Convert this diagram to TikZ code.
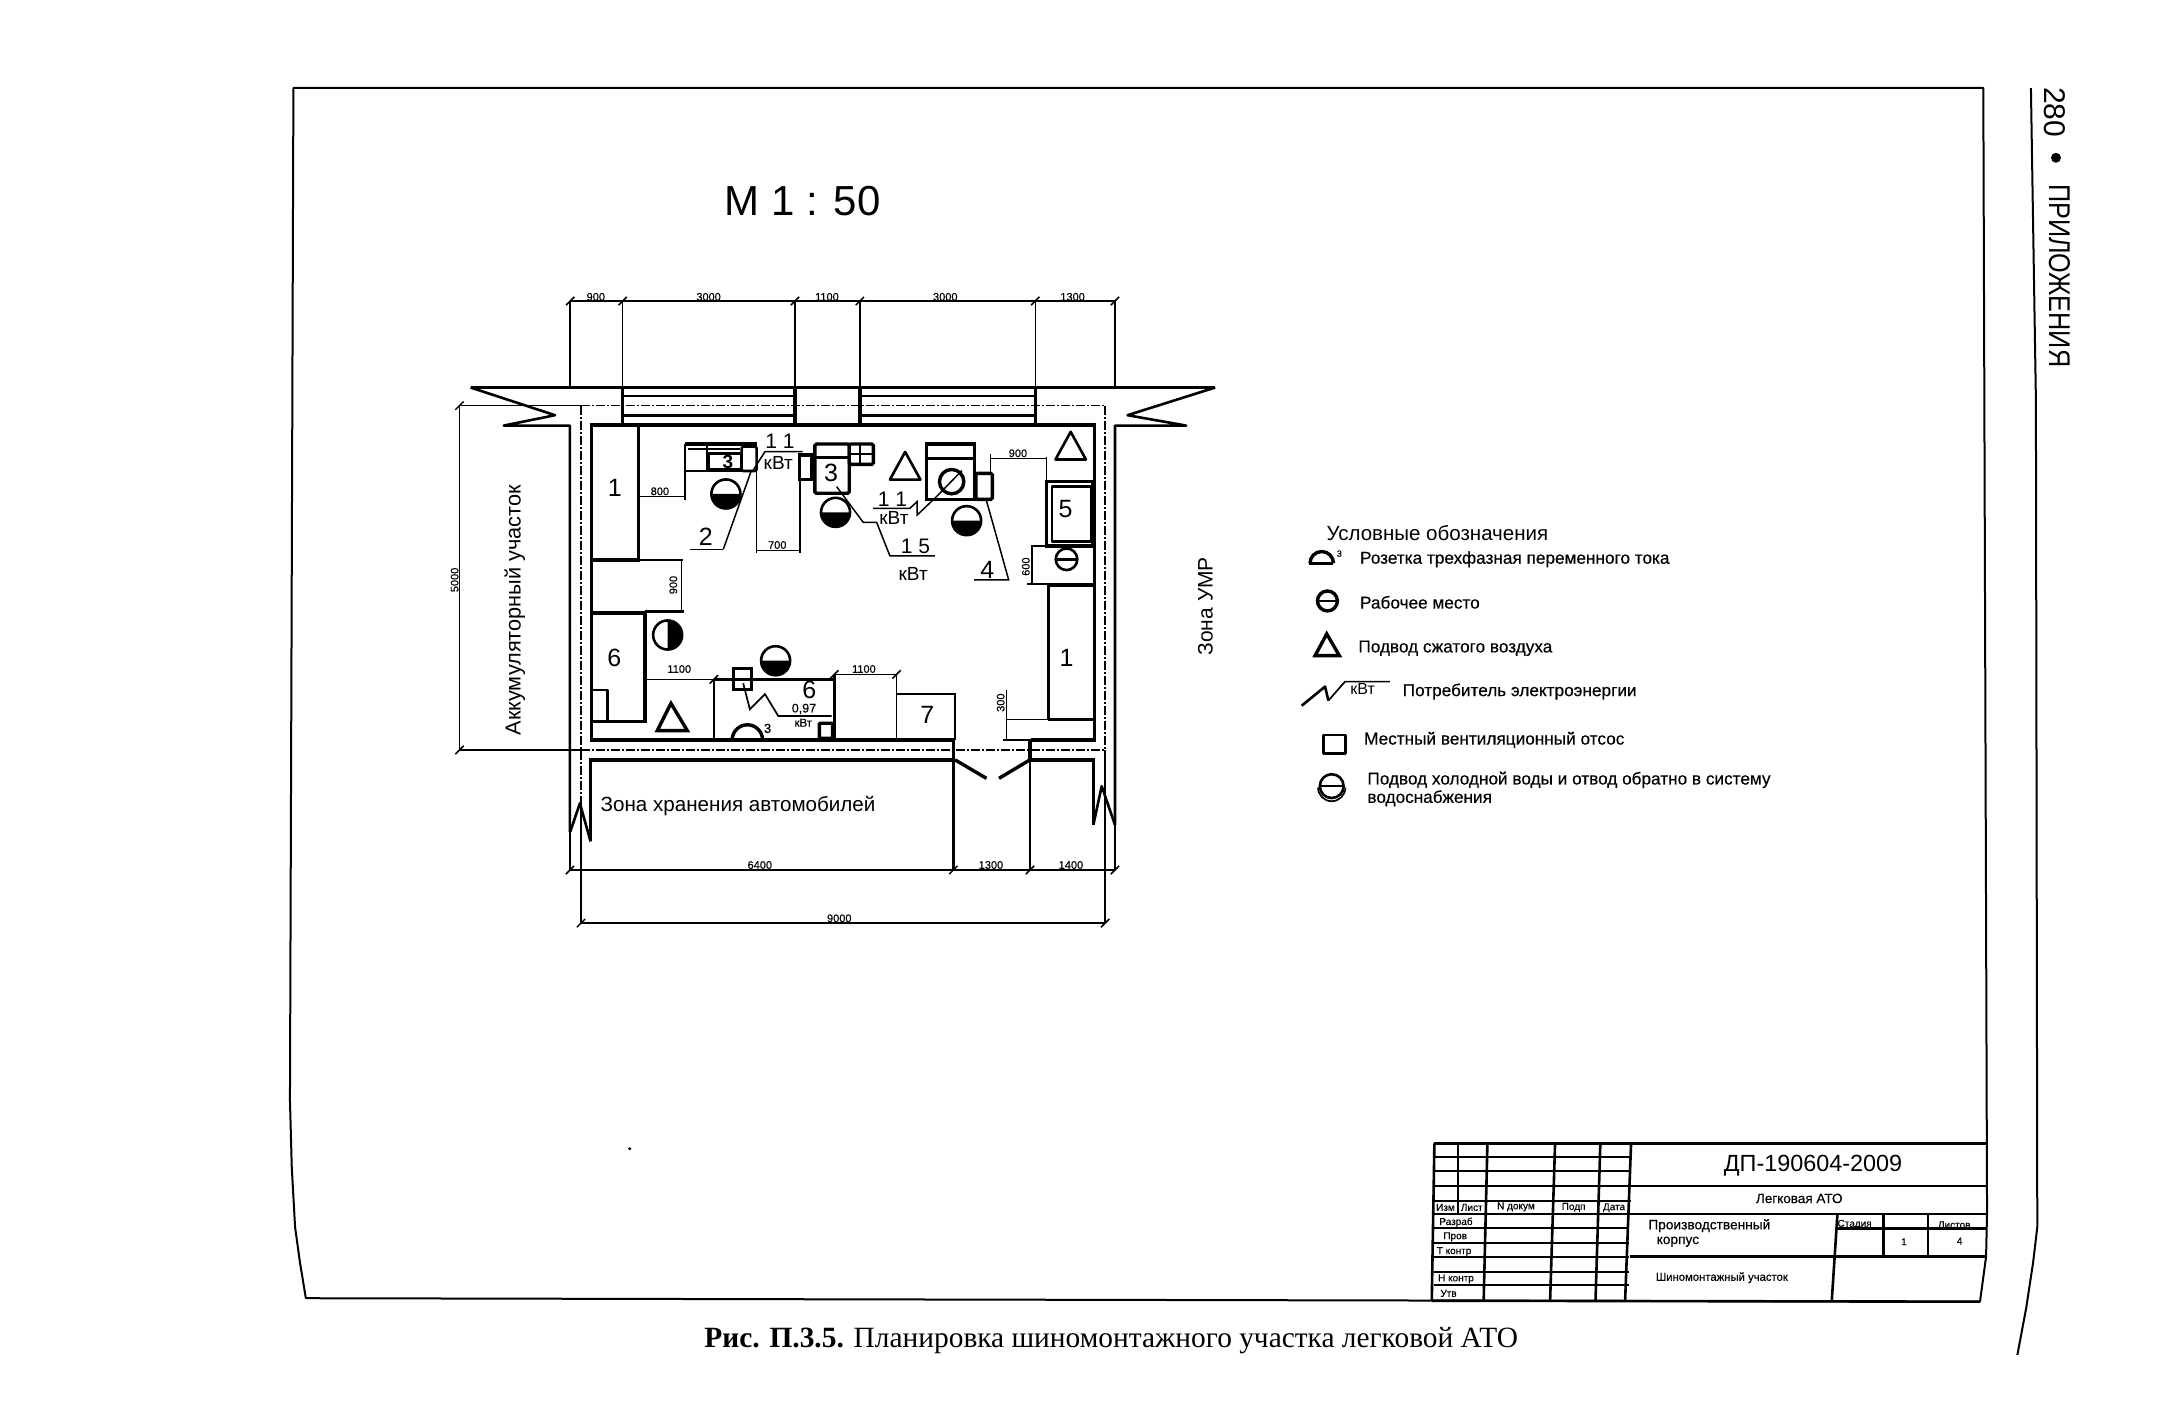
\documentclass[tikz,border=0pt]{standalone}
\usepackage{fontspec}
\setmainfont{Liberation Sans}
\newfontfamily\capfont{Liberation Serif}
\newfontfamily\scanfont[FakeBold=0.35]{Liberation Sans}
\newcommand{\fs}[1]{\fontsize{#1}{#1}\selectfont}
\tikzset{
	wall/.style={line width=3.4pt, line join=miter},
	heavy/.style={line width=2.6pt, line join=round},
	fine/.style={line width=1.7pt},
	dimline/.style={line width=1.5pt},
	axisline/.style={line width=1.5pt, dash pattern=on 9pt off 2pt on 2pt off 2pt},
	every node/.style={inner sep=0pt, outer sep=0pt},
	dimtext/.style={font=\scanfont\fs{11}},
	numtext/.style={font=\fs{25}},
	powtext/.style={font=\fs{19}},
	legtext/.style={font=\scanfont\fs{17.2}, anchor=west},
	tabtext/.style={font=\scanfont\fs{10}},
	stamptext/.style={font=\scanfont\fs{11.3}, anchor=west}
}
\newcommand{\tk}[2]{\draw[dimline] (#1-3,#2+3) -- (#1+3,#2-3);}
\newcommand{\workplace}[2]{\draw[heavy] (#1,#2) circle (10.5); \fill (#1+11,#2) arc (0:180:11) -- cycle;}
\newcommand{\airtri}[3]{\draw[heavy] (#1,#2) -- (#1-#3,#2+20) -- (#1+#3,#2+20) -- cycle;}
\begin{document}
\begin{tikzpicture}[x=1.384pt, y=-1.384pt]
	\useasboundingbox (0,0) rectangle (1567.9,1020.2);
	
	% sheet frame and page rule
	\draw[heavy, line width=2pt] (209.5,795) -- (210.8,843) -- (213.2,886.6) -- (216.8,912.6) -- (221,938) -- (1430.6,940.5) -- (1435,908) -- (1435.7,876) -- (1433,63.5) -- (212,63.5) -- cycle;
	\draw[fine, line width=2pt] (1467.4,63.6) -- (1471,289) -- (1472,886.6) -- (1469,912) -- (1464,945) -- (1457.6,979);
	
	% page header and caption
	\node[rotate=-90, anchor=west, font=\fs{30}] (pagenum) at (1485,63){280};
	\fill (1485.5,114) circle (3.6);
	\node[rotate=-90, anchor=west, font=\fs{30}] (chapter) at (1488,133){\scalebox{.84}[1]{ПРИЛОЖЕНИЯ}};
	\node[anchor=west, font=\capfont\fs{29.4}] (caption) at (509,968.5){\textbf{Рис. П.3.5.} Планировка шиномонтажного участка легковой АТО};
	\node[font=\fs{42}] (scale) at (580,145){М 1 : 50};
	\fill (455,830) circle (1.2);
	
	% top dimension chain
	\draw[dimline] (412,217.5) -- (806,217.5);
	\foreach \x in {412,449.9,574.4,621.3,748,805.6}{
		\draw[dimline] (\x,217.5) -- (\x,280);
		\tk{\x}{217.5}
	}
	\node[dimtext] (dimA) at (430.5,214.5){900};
	\node[dimtext] (dimB) at (512,214.5){3000};
	\node[dimtext] (dimC) at (597.5,214.5){1100};
	\node[dimtext] (dimD) at (683,214.5){3000};
	\node[dimtext] (dimE) at (775,214.5){1300};
	
	% left dimension
	\draw[dimline] (332,293.1) -- (332,541.9);
	\draw[dimline] (332,293.1) -- (420,293.1);
	\draw[dimline] (332,541.9) -- (419.8,541.9);
	\tk{332}{293.1}
	\tk{332}{541.9}
	\node[dimtext, rotate=90] (dimF) at (328.5,419){5000};
	
	% bottom dimensions
	\draw[dimline] (411.8,628.6) -- (805.6,628.6);
	\draw[dimline] (419.8,667) -- (798.5,667);
	\foreach \x in {411.8,688.8,744.2,805.6}{\tk{\x}{628.6}}
	\foreach \x in {419.8,798.5}{\tk{\x}{667}}
	\node[dimtext] (dimG) at (549,625){6400};
	\node[dimtext] (dimH) at (716,625){1300};
	\node[dimtext] (dimI) at (773.8,625){1400};
	\node[dimtext] (dimJ) at (606.4,663.5){9000};
	
	% axes
	\draw[axisline] (420,293.1) -- (798.5,293.1);
	\draw[axisline] (419.8,293.1) -- (419.8,580);
	\draw[axisline] (798.5,293.1) -- (798.5,541.9);
	\draw[axisline] (419.8,541.9) -- (798.5,541.9);
	\draw[dimline] (419.8,580) -- (419.8,667);
	\draw[dimline] (798.5,541.9) -- (798.5,667);
	
	% walls
	\draw[heavy] (340,280) -- (878,280);
	\draw[heavy] (340,280) -- (401,300) -- (364,307.5) -- (411.8,307.5) -- (411.8,601);
	\draw[heavy] (878,280) -- (814.7,300) -- (857,307.5) -- (805.6,307.5) -- (805.6,596);
	\draw[dimline] (411.8,601) -- (411.8,628.6);
	\draw[dimline] (805.6,596) -- (805.6,628.6);
	\draw[wall] (748,280) -- (748,307.2) -- (791,307.2) -- (791,534.7) -- (745,534.7);
	\draw[wall] (748,307.2) -- (427.5,307.2) -- (427.5,534.7) -- (689,534.7);
	\draw[wall] (426.7,608) -- (426.7,549) -- (689,549);
	\draw[wall] (744.2,549) -- (790,549) -- (790,596);
	\draw[heavy] (426.7,608) -- (419,580.4) -- (412,601);
	\draw[heavy] (790,596) -- (796,568) -- (805.6,596);
	\foreach \x in {449.9,574.4,621.3}{\draw[wall] (\x,280) -- (\x,307);}
	\draw[heavy] (450,286.1) -- (574,286.1);
	\draw[heavy] (450,300.3) -- (574,300.3);
	\draw[heavy] (621,286.1) -- (748,286.1);
	\draw[heavy] (621,300.3) -- (748,300.3);
	
	% door
	\draw[wall] (688.8,534) -- (688.8,549);
	\draw[wall] (744.2,534) -- (744.2,549);
	\draw[heavy] (688.8,549) -- (688.8,628.6);
	\draw[fine] (744.2,549) -- (744.2,628.6);
	\draw[wall] (690,549) -- (712.8,562.4);
	\draw[wall] (744.2,549) -- (721.8,562.4);
	
	% left row of equipment
	\draw[wall] (461.2,307) -- (461.2,404.6) -- (427.5,404.6);
	\node[numtext] (benchA) at (444.3,352.8){1};
	\draw[wall] (427.5,443) -- (466,443) -- (466,521.4) -- (427.5,521.4);
	\draw[heavy] (461,404.6) -- (493.5,404.6);
	\draw[dimline] (492.5,404.6) -- (492.5,442);
	\draw[heavy] (466,442) -- (494,442);
	\node[dimtext, rotate=90] (dimK) at (486.5,422.7){900};
	\draw[heavy] (427.5,498.6) -- (439,498.6) -- (439,521);
	\node[numtext] (rackA) at (443.8,475.7){6};
	\draw[heavy] (482.4,458.8) circle (10.5);
	\fill (482.4,447.8) arc (-90:90:11) -- cycle;
	
	% lower row of equipment
	\draw[dimline] (467.7,490.9) -- (515.8,490.9);
	\tk{515.8}{490.9}
	\node[dimtext] (dimL) at (490.8,483.4){1100};
	\draw[heavy] (515.8,490.9) -- (602.8,490.9);
	\draw[heavy] (515.8,490.9) -- (515.8,534.7);
	\draw[heavy] (602.8,487.3) -- (602.8,534.7);
	\draw[fine] (602.8,487.3) -- (647.8,487.3);
	\tk{602.8}{487.3}
	\tk{647.8}{487.3}
	\node[dimtext] (dimM) at (624.2,483.4){1100};
	\draw[fine] (647.8,487.3) -- (647.8,534.7);
	\draw[fine] (647.8,501.5) -- (690,501.5) -- (690,534.7);
	\node[numtext] (rackB) at (670,516.6){7};
	\draw[wall] (529.8,482.9) rectangle (543,498);
	\node[numtext] (rackC) at (584.7,498.6){6};
	\draw[fine] (537,493.7) -- (541.8,512.5) -- (552.7,501.5) -- (562.3,517.3) -- (600.8,517.3);
	\node[font=\scanfont\fs{12.5}] (powA) at (580.9,512.2){0,97};
	\node[font=\scanfont\fs{11.5}] (powB) at (580.4,522.2){кВт};
	\draw[wall] (529,534.7) arc (180:360:11);
	\node[font=\scanfont\fs{13}] (sockA) at (554.6,526.3){3};
	\draw[wall, rounded corners=1pt] (592,522.6) rectangle (601.5,533.5);
	\workplace{560.4}{477.4}
	\draw[wall] (474.9,527.9) -- (484.8,508.2) -- (496.6,527.9) -- cycle;
	
	% right column of equipment
	\draw[wall] (757.4,519.8) -- (757.4,422.7);
	\draw[wall] (757.4,519.8) -- (791,519.8);
	\draw[wall] (757.4,422.7) -- (791,422.7);
	\node[numtext] (benchB) at (770.6,475.7){1};
	\draw[fine] (727.3,519.8) -- (757.4,519.8);
	\draw[fine] (725,534.7) -- (745,534.7);
	\draw[dimline] (727.3,498.6) -- (727.3,534.7);
	\node[dimtext, rotate=90] (dimN) at (723,507.7){300};
	\draw[wall] (756.1,348) rectangle (789.8,394.5);
	\draw[heavy] (760.2,351.6) rectangle (788.5,391.4);
	\node[numtext] (sinkA) at (769.9,368){5};
	\draw[fine] (745,394.5) -- (790,394.5);
	\draw[fine] (742,422.2) -- (791,422.2);
	\draw[dimline] (745.7,394.5) -- (745.7,422.2);
	\node[dimtext, rotate=90] (dimO) at (741.2,409.4){600};
	\draw[heavy] (770.6,404.1) circle (7.8);
	\draw[heavy] (762.8,404.1) -- (778.4,404.1);
	\airtri{773.6}{312}{11}
	\draw[dimline] (715.8,328.3) -- (715.8,342);
	\draw[dimline] (715.8,331.2) -- (756.1,331.2);
	\draw[dimline] (756.1,330) -- (756.1,346.8);
	\node[dimtext] (dimP) at (735.5,327.5){900};
	
	% machine 2
	\draw[wall] (494.9,320.8) -- (546.7,320.8);
	\draw[fine] (494.9,340.3) -- (494.9,320.8);
	\draw[fine] (494.9,340.3) -- (546.7,340.3);
	\draw[wall] (511.7,327.5) rectangle (535.8,339.6);
	\draw[fine] (511,320.8) -- (511,340);
	\draw[dimline] (497,324.5) -- (535,324.5);
	\draw[heavy, rounded corners=1.5pt] (535.8,322.7) rectangle (546.7,340.3);
	\node[font=\bfseries\fs{19}] (machA) at (526,334){3};
	\draw[dimline] (522.6,396.9) -- (498.5,396.9);
	\draw[dimline] (543,339.6) -- (522.6,396.9);
	\node[numtext] (leadA) at (510,387.7){2};
	\workplace{524.5}{356.9}
	\draw[dimline] (462.4,358.9) -- (494.9,358.9);
	\draw[dimline] (494.9,340.3) -- (494.9,361);
	\node[dimtext] (dimQ) at (476.8,355){800};
	\draw[dimline] (546.7,340.3) -- (546.7,399.8);
	\draw[dimline] (578,346.8) -- (578,399.8);
	\draw[dimline] (546.7,397.9) -- (578,397.9);
	\node[dimtext] (dimR) at (561.6,393.8){700};
	\draw[dimline] (544.3,339.6) -- (552.7,326.3) -- (579.9,326.3);
	\node[font=\fs{21}] (powC) at (563.5,319){1 1};
	\node[powtext] (powD) at (562.3,334.3){кВт};
	\draw[wall] (577.5,328.7) rectangle (586.4,346.3);
	
	% machine 3
	\draw[wall, rounded corners=1.5pt] (588.8,320.8) rectangle (613.6,356.4);
	\draw[heavy] (588.8,330.4) -- (613.6,330.4);
	\draw[wall, rounded corners=1.5pt] (613.6,320.8) rectangle (631,335.5);
	\draw[heavy] (613.6,328) -- (631,328);
	\draw[heavy] (621.5,320.8) -- (621.5,335.5);
	\node[numtext] (machB) at (600.4,341.5){3};
	\workplace{603.7}{370.2}
	\draw[dimline] (604.5,351.6) -- (623.7,377.4) -- (633.4,377.4) -- (643,401.7) -- (675.5,401.7);
	\node[font=\fs{21}] (powE) at (661.5,394.5){1 5};
	\node[powtext] (powF) at (659.8,414.7){кВт};
	\node[font=\fs{21}] (powG) at (644.9,360.8){1 1};
	\node[powtext] (powH) at (645.9,374.5){кВт};
	\draw[dimline] (630.9,367.3) -- (657.4,367.3) -- (662.7,362.4) -- (662.7,372.1) -- (676.7,358.8) -- (695,340);
	\airtri{654}{326.5}{11}
	
	% machine 4
	\draw[wall] (669.5,320.8) rectangle (704.3,360.8);
	\draw[heavy] (669.5,331.2) -- (704.3,331.2);
	\draw[wall] (687.6,348) circle (8.8);
	\draw[wall, rounded corners=1.5pt] (705.1,342) rectangle (717,360.8);
	\workplace{698.4}{376.2}
	\draw[dimline] (712.6,361.2) -- (728.8,419) -- (703.8,419);
	\node[numtext] (leadB) at (713.3,411.8){4};
	
	% zone labels
	\node[rotate=90, font=\fs{21.7}] (zoneA) at (372,441){Аккумуляторный участок};
	\node[rotate=90, font=\fs{21}] (zoneB) at (871,438){Зона УМР};
	\node[anchor=west, font=\fs{20.6}] (zoneC) at (434,582){Зона хранения автомобилей};
	
	% legend
	\node[anchor=west, font=\fs{20.5}] (legend) at (958.6,385.4){Условные обозначения};
	\draw[wall] (946,407) -- (963.4,407);
	\draw[wall] (946.5,407) arc (180:360:8.5);
	\node[font=\scanfont\fs{9}] (legSockN) at (967.7,400){3};
	\node[legtext] (legSock) at (982.7,404.1){Розетка трехфазная переменного тока};
	\draw[wall] (959.1,434.2) circle (7.2);
	\draw[heavy] (952,434.2) -- (966.2,434.2);
	\node[legtext] (legWork) at (982.7,435.2){Рабочее место};
	\draw[wall] (950.2,473.7) -- (958.6,458) -- (967.7,473.7) -- cycle;
	\node[legtext] (legAir) at (981.5,468.4){Подвод сжатого воздуха};
	\draw[heavy] (940.5,509.9) -- (957.4,496.1) -- (959.8,506.2);
	\draw[fine] (959.8,506.2) -- (971.8,492.5) -- (1004.3,492.5);
	\node[font=\fs{16}] (legKw) at (984.6,498){кВт};
	\node[legtext] (legPow) at (1013.5,499.7){Потребитель электроэнергии};
	\draw[heavy] (956.2,531) rectangle (972.3,544.3);
	\node[legtext] (legVent) at (985.6,534.6){Местный вентиляционный отсос};
	\draw[heavy] (962.2,568) circle (8.6);
	\draw[heavy] (953.6,568) -- (970.8,568);
	\draw[fine] (952.3,569) arc (180:0:9.9);
	\node[legtext] (legWaterA) at (988,563.5){Подвод холодной воды и отвод обратно в систему};
	\node[legtext] (legWaterB) at (988,576.8){водоснабжения};
	
	% title block
	\draw[heavy] (1036.4,826.1) -- (1436,826.1);
	\draw[heavy] (1178.5,857) -- (1435.5,857);
	\draw[heavy] (1036,877.2) -- (1435,877.2);
	\draw[heavy] (1177.5,908) -- (1434,908);
	\foreach \y in {835.8,845.9,857,867.5}{\draw[fine, line width=2pt] (1036.4,\y) -- (1178.5,\y);}
	\foreach \y in {887.5,898.4,908,918.8,928.5}{\draw[fine, line width=2pt] (1036,\y) -- (1177,\y);}
	\draw[heavy] (1327.6,887.5) -- (1435,887.5);
	\draw[heavy] (1053.3,826.1) -- (1053.3,877.2);
	\foreach \xa/\xb in {1074.7/1072, 1123.6/1120, 1156.3/1152.8, 1178.5/1174.2}{
		\draw[heavy] (\xa,826.1) -- (\xb,939.8);
	}
	\draw[heavy] (1036.4,826.1) -- (1034.5,939.8);
	\draw[heavy] (1034.5,939.8) -- (1430.6,940.5);
	\draw[heavy] (1327.6,877.2) -- (1323.5,940);
	\draw[heavy] (1361,877.2) -- (1361,908);
	\draw[heavy] (1393,877.2) -- (1393,908);
	
	\node[font=\fs{23.4}] (docnum) at (1310,842.5){ДП-190604-2009};
	\node[font=\scanfont\fs{13.5}] (tbCar) at (1300,865.9){Легковая АТО};
	\node[stamptext, font=\scanfont\fs{13.7}] (tbProdA) at (1191,885.6){Производственный};
	\node[stamptext, font=\scanfont\fs{13.7}] (tbProdB) at (1197,897.2){корпус};
	\node[stamptext] (tbShop) at (1196.4,923.2){Шиномонтажный участок};
	\node[tabtext] (tbStage) at (1340,884.6){Стадия};
	\node[tabtext] (tbSheets) at (1412,885){Листов};
	\node[tabtext] (tbOne) at (1375.7,897.2){1};
	\node[tabtext] (tbFour) at (1415.9,896.7){4};
	\node[tabtext] (tbRev) at (1044.4,872.4){Изм};
	\node[tabtext] (tbList) at (1063.4,872.4){Лист};
	\node[tabtext] (tbDoc) at (1095.3,872){N докум};
	\node[tabtext] (tbSign) at (1137,872.4){Подп};
	\node[tabtext] (tbDate) at (1166.2,872.6){Дата};
	\node[tabtext] (tbDev) at (1052,883.2){Разраб};
	\node[tabtext] (tbChk) at (1051.4,893.6){Пров};
	\node[tabtext] (tbTech) at (1050.6,904.4){Т контр};
	\node[tabtext] (tbNorm) at (1052,924.1){Н контр};
	\node[tabtext] (tbAppr) at (1046.6,934.5){Утв};
\end{tikzpicture}
\end{document}
